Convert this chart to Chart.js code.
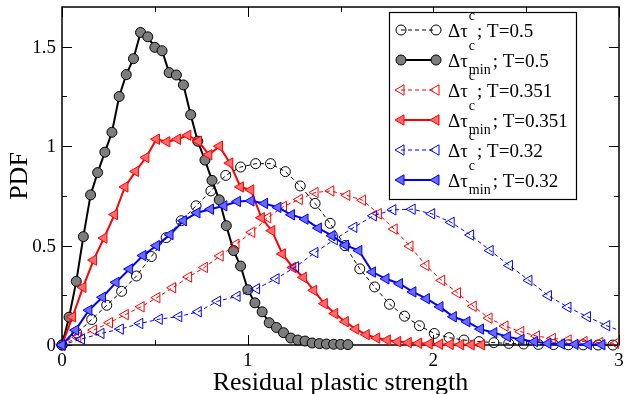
<!DOCTYPE html>
<html>
<head>
<meta charset="utf-8">
<script src="https://cdn.jsdelivr.net/npm/chart.js@4.4.1/dist/chart.umd.min.js"></script>
<style>
  html, body { margin: 0; padding: 0; background: #fff; }
  canvas { display: block; }
</style>
</head>
<body>
<canvas id="pdfChart" width="626" height="394"></canvas>
<script>
// PDF of residual plastic strength, six histograms

// Δτ^c, T=0.5
const tauC05X = [0, 0.08, 0.16, 0.241, 0.321, 0.401, 0.481, 0.561, 0.642, 0.722, 0.802, 0.882, 0.962, 1.043, 1.123, 1.203, 1.283, 1.363, 1.444, 1.524, 1.604, 1.684, 1.764, 1.845, 1.925, 2.005, 2.085, 2.165, 2.246, 2.326, 2.406, 2.486, 2.566, 2.647, 2.727, 2.807, 2.887, 2.967];
const tauC05Y = [0, 0.06, 0.128, 0.2, 0.27, 0.347, 0.445, 0.54, 0.625, 0.7, 0.775, 0.853, 0.895, 0.912, 0.912, 0.872, 0.8, 0.712, 0.612, 0.5, 0.383, 0.292, 0.205, 0.145, 0.097, 0.058, 0.037, 0.025, 0.017, 0.012, 0.008, 0.005, 0.003, 0.002, 0.001, 0.001, 0, 0];

// Δτ^c_min, T=0.5
const tauMin05X = [0, 0.038, 0.077, 0.115, 0.154, 0.192, 0.231, 0.269, 0.308, 0.346, 0.385, 0.423, 0.462, 0.5, 0.539, 0.577, 0.616, 0.654, 0.693, 0.731, 0.77, 0.808, 0.847, 0.885, 0.924, 0.962, 1.001, 1.039, 1.078, 1.116, 1.155, 1.193, 1.232, 1.27, 1.309, 1.347, 1.386, 1.424, 1.463, 1.501, 1.54];
const tauMin05Y = [0, 0.14, 0.32, 0.545, 0.755, 0.867, 0.97, 1.07, 1.25, 1.36, 1.44, 1.572, 1.55, 1.497, 1.48, 1.37, 1.358, 1.308, 1.158, 1.025, 0.93, 0.828, 0.73, 0.6, 0.475, 0.397, 0.278, 0.212, 0.167, 0.112, 0.088, 0.062, 0.035, 0.025, 0.02, 0.01, 0.007, 0.005, 0.004, 0.003, 0.002];

// Δτ^c, T=0.351
const tauC0351X = [0, 0.085, 0.17, 0.256, 0.341, 0.426, 0.511, 0.596, 0.682, 0.767, 0.852, 0.937, 1.022, 1.108, 1.193, 1.278, 1.363, 1.448, 1.534, 1.619, 1.704, 1.789, 1.874, 1.96, 2.045, 2.13, 2.215, 2.3, 2.386, 2.471, 2.556, 2.641, 2.726, 2.812, 2.897, 2.982];
const tauC0351Y = [0, 0.038, 0.075, 0.112, 0.153, 0.192, 0.238, 0.288, 0.342, 0.39, 0.448, 0.507, 0.567, 0.64, 0.697, 0.732, 0.767, 0.775, 0.753, 0.728, 0.66, 0.583, 0.497, 0.4, 0.325, 0.262, 0.195, 0.135, 0.095, 0.067, 0.045, 0.033, 0.025, 0.017, 0.012, 0.008];

// Δτ^c_min, T=0.351
const tauMin0351X = [0, 0.057, 0.113, 0.17, 0.226, 0.283, 0.339, 0.396, 0.452, 0.509, 0.565, 0.622, 0.678, 0.735, 0.791, 0.848, 0.904, 0.961, 1.017, 1.074, 1.13, 1.187, 1.243, 1.3, 1.356, 1.413, 1.469, 1.526, 1.582, 1.639, 1.695, 1.752, 1.808, 1.865, 1.921, 1.978, 2.034, 2.091, 2.147, 2.204, 2.26];
const tauMin0351Y = [0, 0.142, 0.29, 0.427, 0.538, 0.656, 0.795, 0.873, 0.943, 1.035, 1.022, 1.035, 1.055, 1.025, 0.957, 1.0, 0.915, 0.795, 0.78, 0.64, 0.575, 0.458, 0.39, 0.34, 0.275, 0.208, 0.158, 0.117, 0.08, 0.052, 0.035, 0.025, 0.017, 0.012, 0.009, 0.006, 0.004, 0.003, 0.002, 0.001, 0.001];

// Δτ^c, T=0.32
const tauC032X = [0, 0.105, 0.21, 0.314, 0.419, 0.524, 0.629, 0.734, 0.838, 0.943, 1.048, 1.153, 1.258, 1.362, 1.467, 1.572, 1.677, 1.782, 1.886, 1.991, 2.096, 2.201, 2.306, 2.41, 2.515, 2.62, 2.725, 2.83, 2.934, 3.039];
const tauC032Y = [0, 0.03, 0.058, 0.08, 0.108, 0.13, 0.143, 0.167, 0.22, 0.245, 0.283, 0.333, 0.393, 0.465, 0.53, 0.592, 0.65, 0.68, 0.683, 0.66, 0.617, 0.553, 0.475, 0.4, 0.325, 0.248, 0.19, 0.142, 0.097, 0.06];

// Δτ^c_min, T=0.32
const tauMin032X = [0, 0.073, 0.145, 0.218, 0.291, 0.364, 0.436, 0.509, 0.582, 0.654, 0.727, 0.8, 0.872, 0.945, 1.018, 1.091, 1.163, 1.236, 1.309, 1.381, 1.454, 1.527, 1.599, 1.672, 1.745, 1.818, 1.89, 1.963, 2.036, 2.108, 2.181, 2.254, 2.326, 2.399, 2.472, 2.545, 2.617, 2.69, 2.763, 2.835, 2.908];
const tauMin032Y = [0, 0.075, 0.175, 0.24, 0.315, 0.382, 0.45, 0.5, 0.555, 0.625, 0.665, 0.683, 0.7, 0.722, 0.725, 0.712, 0.692, 0.655, 0.633, 0.588, 0.55, 0.502, 0.475, 0.367, 0.333, 0.308, 0.267, 0.233, 0.192, 0.142, 0.117, 0.08, 0.062, 0.042, 0.028, 0.017, 0.008, 0.005, 0.003, 0.002, 0.001];

const temps = ['0.5', '0.5', '0.351', '0.351', '0.32', '0.32'];
const isMin = [false, true, false, true, false, true];

const xMajor = [0, 1, 2, 3];
const xMinor = [0.5, 1.5, 2.5];
const xTickLabels = ['0', '1', '2', '3'];
const yMajor = [0, 0.5, 1, 1.5];
const yMinor = [0.25, 0.75, 1.25];
const yTickLabels = ['0', '0.5', '1', '1.5'];

const SERIF = '"Liberation Serif", "Times New Roman", serif';

function series(xs, ys, o) {
    return {
        label: o.label,
        data: xs.map((x, i) => ({ x, y: ys[i] })),
        borderColor: o.color,
        borderWidth: o.dashed ? 1 : 2,
        borderDash: o.dashed ? [4, 3] : [],
        pointStyle: o.marker,
        pointRotation: o.marker === 'triangle' ? -90 : 0,
        pointRadius: o.marker === 'triangle' ? 6 : 5,
        pointHoverRadius: o.marker === 'triangle' ? 6 : 5,
        pointBorderColor: o.color,
        pointBackgroundColor: o.fill,
        pointBorderWidth: 1,
        tension: 0,
        fill: false,
        order: o.order,
        clip: { left: 12, top: 12, right: 0, bottom: 12 }
    };
}

const datasets = [
    series(tauC05X, tauC05Y, { label: 'Δτc; T=0.5', color: '#000', fill: 'rgba(0,0,0,0)', marker: 'circle', dashed: true, order: 6 }),
    series(tauMin05X, tauMin05Y, { label: 'Δτc_min; T=0.5', color: '#000', fill: '#7d7d7d', marker: 'circle', dashed: false, order: 5 }),
    series(tauC0351X, tauC0351Y, { label: 'Δτc; T=0.351', color: '#ff0000', fill: 'rgba(0,0,0,0)', marker: 'triangle', dashed: true, order: 4 }),
    series(tauMin0351X, tauMin0351Y, { label: 'Δτc_min; T=0.351', color: '#ff0000', fill: '#ff6a6a', marker: 'triangle', dashed: false, order: 3 }),
    series(tauC032X, tauC032Y, { label: 'Δτc; T=0.32', color: '#0000ff', fill: 'rgba(0,0,0,0)', marker: 'triangle', dashed: true, order: 2 }),
    series(tauMin032X, tauMin032Y, { label: 'Δτc_min; T=0.32', color: '#0000ff', fill: '#6a6aff', marker: 'triangle', dashed: false, order: 1 })
];

function drawMarker(ctx, ds, x, y) {
    const r = ds.pointRadius;
    ctx.beginPath();
    if (ds.pointStyle === 'circle') {
        ctx.arc(x, y, r, 0, Math.PI * 2);
    } else {
        ctx.moveTo(x - r, y);
        ctx.lineTo(x + r / 2, y - r * 0.866);
        ctx.lineTo(x + r / 2, y + r * 0.866);
        ctx.closePath();
    }
    ctx.fillStyle = ds.pointBackgroundColor;
    ctx.fill();
    ctx.lineWidth = 1;
    ctx.strokeStyle = ds.pointBorderColor;
    ctx.stroke();
}

// box, inward ticks on all four sides, tick labels and axis titles
const frame = {
    id: 'frame',
    beforeDatasetsDraw(chart) {
        const { ctx, chartArea: a, scales: { x, y } } = chart;
        ctx.save();
        ctx.strokeStyle = '#000';
        ctx.lineWidth = 1.5;
        ctx.strokeRect(a.left, a.top, a.right - a.left, a.bottom - a.top);

        ctx.lineWidth = 1;
        ctx.beginPath();
        const xt = (v, len) => {
            const px = Math.round(x.getPixelForValue(v)) + 0.5;
            ctx.moveTo(px, a.bottom); ctx.lineTo(px, a.bottom - len);
            ctx.moveTo(px, a.top); ctx.lineTo(px, a.top + len);
        };
        const yt = (v, len) => {
            const py = Math.round(y.getPixelForValue(v)) + 0.5;
            ctx.moveTo(a.left, py); ctx.lineTo(a.left + len, py);
            ctx.moveTo(a.right, py); ctx.lineTo(a.right - len, py);
        };
        xMajor.forEach(v => xt(v, 10));
        xMinor.forEach(v => xt(v, 5));
        yMajor.forEach(v => yt(v, 10));
        yMinor.forEach(v => yt(v, 5));
        ctx.stroke();

        ctx.fillStyle = '#000';
        ctx.font = '19px ' + SERIF;
        ctx.textAlign = 'center';
        ctx.textBaseline = 'alphabetic';
        xMajor.forEach((v, i) => ctx.fillText(xTickLabels[i], x.getPixelForValue(v), a.bottom + 21));
        ctx.textAlign = 'right';
        ctx.textBaseline = 'middle';
        yMajor.forEach((v, i) => ctx.fillText(yTickLabels[i], a.left - 6, y.getPixelForValue(v) + 1));

        ctx.font = '26px ' + SERIF;
        ctx.textAlign = 'center';
        ctx.textBaseline = 'alphabetic';
        ctx.fillText('Residual plastic strength', (a.left + a.right) / 2, 390);
        ctx.translate(27, (a.top + a.bottom) / 2);
        ctx.rotate(-Math.PI / 2);
        ctx.fillText('PDF', 0, 0);
        ctx.restore();
    }
};

// legend with super/subscripts
const legendBox = {
    id: 'legendBox',
    afterDatasetsDraw(chart) {
        const ctx = chart.ctx;
        const ds = chart.data.datasets;
        ctx.save();
        ctx.fillStyle = '#fff';
        ctx.fillRect(389, 12, 187, 187);
        ctx.strokeStyle = '#000';
        ctx.lineWidth = 1.2;
        ctx.strokeRect(389.5, 12.5, 187, 187);

        ds.forEach((d, i) => {
            const cy = 30 + i * 30;
            ctx.save();
            ctx.beginPath();
            ctx.setLineDash(d.borderDash);
            ctx.lineWidth = d.borderWidth;
            ctx.strokeStyle = d.borderColor;
            ctx.moveTo(401, cy); ctx.lineTo(436, cy);
            ctx.stroke();
            ctx.restore();
            drawMarker(ctx, d, 401, cy);
            drawMarker(ctx, d, 436, cy);

            ctx.fillStyle = '#000';
            ctx.textAlign = 'left';
            ctx.textBaseline = 'alphabetic';
            let tx = 448;
            ctx.font = '19px ' + SERIF;
            ctx.fillText('Δτ', tx, cy + 7);
            tx += ctx.measureText('Δτ').width + 1;
            ctx.font = '14px ' + SERIF;
            ctx.fillText('c', tx, cy - 10);
            let w = ctx.measureText('c').width;
            if (isMin[i]) {
                ctx.fillText('min', tx, cy + 14);
                w = ctx.measureText('min').width;
            }
            tx += w + 2;
            ctx.font = '19px ' + SERIF;
            ctx.fillText('; T=' + temps[i], tx, cy + 7);
        });
        ctx.restore();
    }
};

new Chart(document.getElementById('pdfChart').getContext('2d'), {
    type: 'line',
    data: { datasets },
    options: {
        responsive: false,
        animation: false,
        layout: { padding: { left: 62, right: 4, top: 5, bottom: 49 } },
        scales: {
            x: { type: 'linear', min: 0, max: 3, display: false },
            y: { type: 'linear', min: 0, max: 1.7, display: false }
        },
        plugins: { legend: { display: false }, tooltip: { enabled: false } }
    },
    plugins: [frame, legendBox]
});
</script>
</body>
</html>
